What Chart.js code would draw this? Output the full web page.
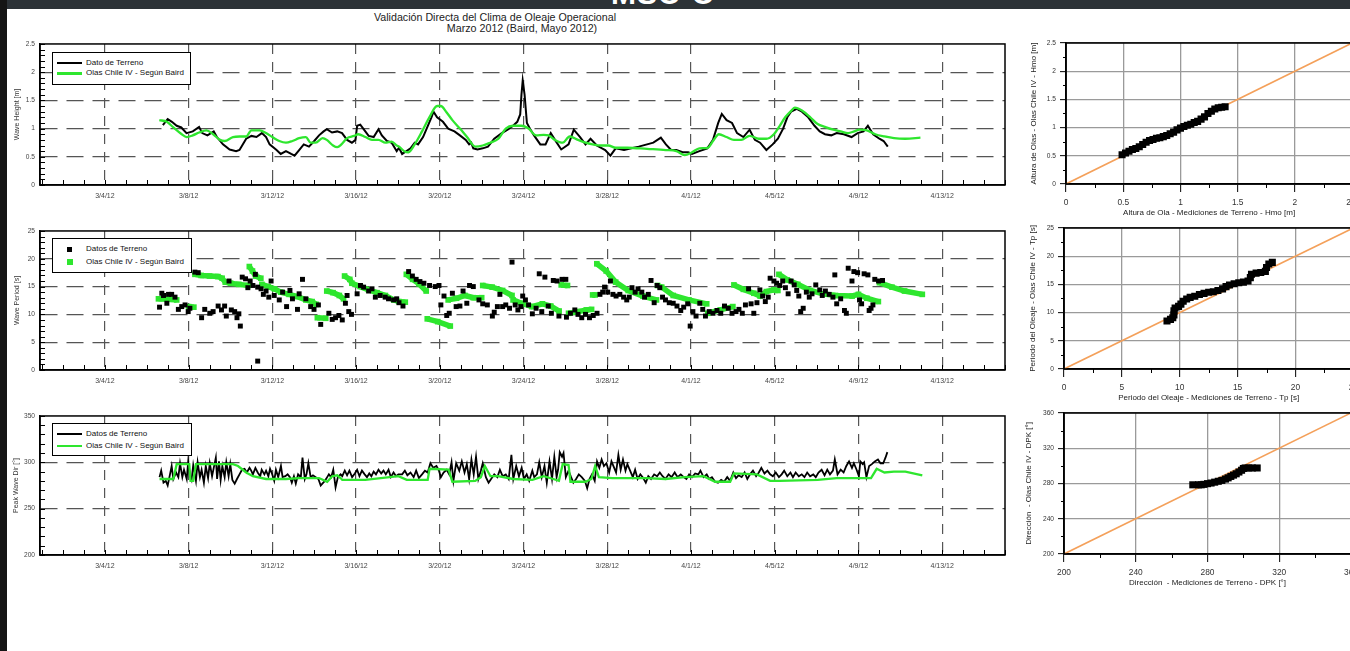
<!DOCTYPE html>
<html><head><meta charset="utf-8">
<script src="https://cdn.jsdelivr.net/npm/chart.js@4"></script>
<style>
html,body{margin:0;padding:0;width:1350px;height:651px;overflow:hidden;background:#fff;font-family:'Liberation Sans',Arial,sans-serif;}
#banner{position:absolute;left:0;top:0;width:1350px;height:9px;background:#2c3237;overflow:hidden;z-index:3;}
#banner span{position:absolute;left:611px;top:-23px;font:bold 30px 'Liberation Sans',Arial,sans-serif;color:#fff;letter-spacing:1px;}
#lstrip{position:absolute;left:0;top:0;width:7px;height:651px;background:#151515;z-index:3;}
.title{position:absolute;font-size:10.7px;line-height:12px;color:#222;white-space:nowrap;transform:translateX(-50%);}
canvas{position:absolute;}
.legend{position:absolute;border:1px solid #000;background:#fff;z-index:2;}
.legend span{position:absolute;left:33px;line-height:10px;font-size:8px;color:#111;white-space:nowrap;}
.legend .ln{position:absolute;left:4px;width:25px;}
.legend .sq{position:absolute;}
</style>
</head>
<body>
<div id="banner"><span>MSC-C</span></div>
<div id="lstrip"></div>
<div class="title" style="left:495px;top:11px">Validación Directa del Clima de Oleaje Operacional</div>
<div class="title" style="left:522px;top:22px">Marzo 2012 (Baird, Mayo 2012)</div>

<canvas id="c1" width="1010" height="175" style="left:0;top:35px"></canvas>
<canvas id="c2" width="1010" height="173" style="left:0;top:222px"></canvas>
<canvas id="c3" width="1010" height="173" style="left:0;top:407px"></canvas>
<canvas id="s1" width="344" height="184" style="left:1020px;top:35px"></canvas>
<canvas id="s2" width="344" height="184" style="left:1020px;top:220px"></canvas>
<canvas id="s3" width="344" height="184" style="left:1020px;top:405px"></canvas>

<div class="legend" style="left:52px;top:52px;width:137px;height:31px">
  <div class="ln" style="top:9px;height:2.2px;background:#000"></div><span style="top:5px">Dato de Terreno</span>
  <div class="ln" style="top:19px;height:2.5px;background:#2ee62e"></div><span style="top:15px">Olas Chile IV - Según Baird</span>
</div>
<div class="legend" style="left:52px;top:238px;width:138px;height:33px">
  <div class="sq" style="left:14px;top:7.5px;width:5px;height:5px;background:#000"></div><span style="top:5px">Datos de Terreno</span>
  <div class="sq" style="left:14px;top:19.5px;width:6px;height:6px;background:#2ee62e"></div><span style="top:17.5px">Olas Chile IV - Según Baird</span>
</div>
<div class="legend" style="left:52px;top:423px;width:138px;height:31px">
  <div class="ln" style="top:9px;height:2.2px;background:#000"></div><span style="top:5px">Datos de Terreno</span>
  <div class="ln" style="top:20.5px;height:2.5px;background:#2ee62e"></div><span style="top:16.5px">Olas Chile IV - Según Baird</span>
</div>

<script>
// ---------- tick labels ----------
const dateTickDays = [3, 7, 11, 15, 19, 23, 27, 31, 35, 39, 43];   // days after 3/1/12
const dateTickLabels = ['3/4/12','3/8/12','3/12/12','3/16/12','3/20/12','3/24/12','3/28/12','4/1/12','4/5/12','4/9/12','4/13/12'];
const hsTicks = [0, 0.5, 1, 1.5, 2, 2.5];
const tpTicks = [0, 5, 10, 15, 20, 25];
const dirTicks = [200, 250, 300, 350];
const dirQQTicks = [200, 240, 280, 320, 360];

// ---------- Wave height (day, m) ----------
const hsObs = [[5.77,1.06],[6.0,1.17],[6.2,1.12],[6.43,1.05],[6.65,1.02],[6.9,0.92],[7.2,0.95],[7.5,1.03],[7.65,0.92],[7.9,0.88],
[8.2,0.95],[8.35,0.85],[8.64,0.72],[8.96,0.63],[9.27,0.60],[9.43,0.62],[9.75,0.82],[10.0,0.87],[10.24,0.85],[10.5,0.92],
[10.7,0.85],[10.87,0.72],[11.2,0.62],[11.4,0.55],[11.65,0.60],[11.9,0.55],[12.06,0.52],[12.28,0.62],[12.5,0.72],[12.75,0.68],
[13.0,0.78],[13.23,0.88],[13.45,0.95],[13.6,0.99],[13.85,0.93],[14.1,0.95],[14.33,0.92],[14.57,0.80],[14.8,0.75],[14.97,0.80],
[15.05,1.05],[15.2,1.07],[15.44,0.95],[15.6,0.87],[15.84,0.85],[16.07,0.99],[16.23,0.88],[16.47,0.78],[16.7,0.75],[16.94,0.60],
[17.05,0.66],[17.2,0.55],[17.6,0.65],[17.8,0.75],[17.96,0.72],[18.2,0.85],[18.6,1.2],[18.7,1.3],[18.87,1.2],[19.15,1.12],
[19.4,1.0],[19.7,0.95],[19.96,0.88],[20.24,0.8],[20.4,0.72],[20.5,0.75],[20.6,0.65],[20.8,0.63],[21.05,0.65],[21.3,0.68],
[21.6,0.82],[21.96,0.92],[22.24,0.98],[22.5,1.05],[22.7,1.12],[22.84,1.25],[22.9,1.6],[22.96,1.85],[23.05,1.6],[23.16,1.1],
[23.3,1.0],[23.5,0.88],[23.8,0.72],[24.05,0.72],[24.3,0.92],[24.5,0.8],[24.8,0.63],[25.15,0.72],[25.4,0.98],[25.7,0.85],
[25.96,0.72],[26.2,0.82],[26.5,0.7],[26.9,0.62],[27.15,0.52],[27.4,0.65],[27.8,0.62],[28.15,0.65],[28.5,0.68],[28.9,0.72],
[29.2,0.75],[29.56,0.84],[29.8,0.72],[30.05,0.62],[30.3,0.62],[30.6,0.58],[30.87,0.58],[31.05,0.55],[31.4,0.6],[31.78,0.65],
[32.05,0.8],[32.3,1.1],[32.47,1.26],[32.7,1.15],[32.96,1.1],[33.2,0.92],[33.5,0.85],[33.8,0.98],[34.05,0.8],[34.3,0.75],
[34.6,0.62],[34.9,0.72],[35.15,0.82],[35.4,1.0],[35.6,1.2],[35.78,1.3],[36.05,1.35],[36.3,1.3],[36.6,1.2],[36.9,1.05],
[37.15,0.95],[37.4,0.9],[37.7,0.88],[37.96,0.92],[38.3,0.9],[38.67,0.85],[38.96,0.92],[39.24,0.95],[39.45,1.05],[39.7,0.9],
[40.0,0.82],[40.2,0.78],[40.4,0.68]];
const hsMod = [[5.6,1.15],[5.96,1.12],[6.27,1.02],[6.67,0.9],[6.9,0.85],[7.2,0.88],[7.5,0.93],[7.85,0.97],[8.17,0.9],[8.5,0.8],
[8.72,0.78],[9.12,0.85],[9.43,0.86],[9.75,0.86],[10.0,0.97],[10.4,0.97],[10.7,0.92],[11.0,0.85],[11.33,0.78],[11.65,0.75],
[11.96,0.78],[12.28,0.83],[12.6,0.85],[12.83,0.75],[13.07,0.75],[13.4,0.83],[13.6,0.8],[13.9,0.7],[14.1,0.67],[14.3,0.72],
[14.57,0.83],[14.9,0.87],[15.1,0.9],[15.45,0.85],[15.76,0.8],[16.07,0.8],[16.4,0.75],[16.7,0.77],[16.94,0.7],[17.05,0.68],
[17.3,0.6],[17.5,0.58],[17.8,0.72],[18.15,0.95],[18.5,1.2],[18.87,1.4],[19.05,1.4],[19.3,1.3],[19.6,1.15],[19.96,1.0],
[20.3,0.85],[20.7,0.68],[21.05,0.7],[21.4,0.75],[21.8,0.82],[22.15,1.0],[22.5,1.05],[22.9,1.05],[23.24,1.0],[23.6,0.88],
[23.96,0.89],[24.2,0.88],[24.5,0.8],[24.87,0.75],[25.2,0.86],[25.6,0.8],[25.96,0.75],[26.3,0.72],[26.7,0.7],[27.05,0.7],
[27.4,0.66],[27.96,0.66],[28.9,0.64],[29.8,0.62],[30.3,0.6],[30.7,0.53],[31.05,0.58],[31.4,0.65],[31.8,0.66],[32.05,0.78],
[32.33,0.9],[32.7,0.85],[33.05,0.8],[33.4,0.8],[33.8,0.87],[34.24,0.82],[34.6,0.82],[34.96,0.9],[35.24,1.05],[35.5,1.2],
[35.8,1.32],[35.96,1.37],[36.3,1.32],[36.7,1.2],[37.05,1.08],[37.4,1.03],[37.8,0.98],[38.15,0.95],[38.5,0.92],[38.8,0.95],
[39.05,0.98],[39.4,0.97],[39.8,0.9],[40.24,0.86],[40.7,0.83],[41.24,0.82],[41.96,0.84]];

// ---------- Wave period (day, s) ----------
const tpObs = [[5.61,11.3],[5.72,13.8],[5.80,13.4],[5.96,12.0],[6.04,13.6],[6.19,13.6],[6.35,13.1],[6.51,10.9],[6.67,11.4],[6.83,11.7],
[6.98,10.5],[7.06,11.1],[7.30,17.6],[7.46,17.5],[7.62,9.4],[7.77,10.9],[8.01,10.2],[8.17,10.5],[8.41,11.5],[8.57,10.8],
[8.72,11.5],[8.80,9.7],[8.93,16.0],[9.04,10.8],[9.20,10.5],[9.31,9.4],[9.40,10.1],[9.47,7.9],[9.56,16.7],[9.72,16.4],
[9.83,14.8],[9.94,16.0],[10.07,15.2],[10.19,17.2],[10.30,1.6],[10.30,14.9],[10.46,14.6],[10.57,13.6],[10.70,14.2],[10.83,13.1],
[10.94,16.0],[11.09,13.4],[11.33,12.6],[11.49,14.0],[11.68,11.4],[11.84,14.3],[11.96,12.8],[12.20,10.9],[12.28,13.7],[12.44,16.3],
[12.60,12.8],[12.83,11.4],[12.99,10.9],[13.20,11.7],[13.31,8.2],[13.70,10.2],[13.86,9.1],[14.02,9.4],[14.18,9.8],[14.34,9.0],
[14.49,12.0],[14.57,13.4],[14.65,10.5],[14.78,10.0],[15.05,13.7],[15.21,15.2],[15.36,14.9],[15.60,14.2],[15.76,14.6],[15.92,13.1],
[16.15,13.4],[16.39,13.1],[16.55,12.8],[16.79,12.6],[16.94,12.8],[17.05,12.1],[17.24,11.5],[17.51,17.7],[17.69,16.9],[17.87,16.3],
[18.05,15.9],[18.24,15.6],[18.51,15.2],[18.78,15.0],[18.96,15.2],[19.05,11.7],[19.20,13.3],[19.33,9.8],[19.45,10.2],[19.60,13.8],
[19.78,11.4],[19.96,11.5],[20.11,14.2],[20.29,12.0],[20.42,15.2],[20.60,15.0],[20.87,12.6],[21.05,11.9],[21.27,11.7],[21.51,9.7],
[21.60,10.4],[21.75,11.4],[21.87,13.6],[22.00,11.4],[22.15,11.7],[22.33,11.1],[22.45,19.4],[22.60,11.7],[22.73,10.8],[22.87,11.4],
[22.96,13.3],[23.09,12.6],[23.24,11.7],[23.42,10.1],[23.60,11.1],[23.75,17.3],[23.87,10.5],[24.02,16.7],[24.18,11.5],[24.33,10.2],
[24.42,16.1],[24.60,16.0],[24.69,9.7],[24.84,16.3],[25.02,16.3],[25.05,9.5],[25.24,10.2],[25.45,10.8],[25.60,10.0],[25.78,9.4],
[25.96,10.0],[26.15,9.4],[26.33,9.8],[26.51,10.2],[26.65,13.6],[26.78,14.0],[26.87,14.9],[27.02,14.0],[27.15,16.0],[27.27,13.6],
[27.42,13.3],[27.60,13.6],[27.78,13.1],[27.93,12.6],[28.05,13.1],[28.18,14.8],[28.33,14.0],[28.47,14.6],[28.65,14.0],[28.78,13.1],
[28.96,13.6],[29.09,16.1],[29.24,12.1],[29.38,15.2],[29.51,14.8],[29.64,13.1],[29.78,12.6],[29.96,12.1],[30.15,12.0],[30.33,11.5],
[30.51,10.7],[30.65,11.3],[30.84,11.9],[30.96,7.9],[31.09,10.5],[31.24,9.7],[31.42,12.0],[31.56,10.9],[31.69,9.7],[31.87,10.5],
[32.05,10.2],[32.24,10.7],[32.42,10.2],[32.60,11.5],[32.78,11.1],[32.96,10.2],[33.15,10.5],[33.29,10.9],[33.45,10.2],[33.60,11.7],
[33.75,14.6],[33.87,11.9],[34.00,10.2],[34.15,12.1],[34.29,14.4],[34.42,13.3],[34.55,12.3],[34.69,13.1],[34.78,16.5],[34.96,16.0],
[35.09,15.6],[35.24,15.2],[35.38,16.0],[35.51,14.8],[35.64,13.7],[35.78,16.0],[35.93,15.3],[36.05,14.3],[36.15,13.3],[36.24,10.5],
[36.36,11.1],[36.51,14.0],[36.65,13.1],[36.78,13.7],[36.96,15.3],[37.15,14.4],[37.27,13.4],[37.42,14.2],[37.60,13.6],[37.78,13.1],
[37.87,17.1],[37.96,11.9],[38.15,12.8],[38.33,10.7],[38.42,10.2],[38.51,18.3],[38.69,16.0],[38.78,17.7],[38.96,17.5],[39.05,12.6],
[39.15,11.9],[39.27,17.3],[39.45,17.1],[39.51,10.7],[39.60,11.1],[39.69,11.7],[39.78,16.3],[39.96,16.0],[40.15,16.1]];
// model runs, null separates the runs
const tpMod = [[5.56,12.8],[5.8,12.8],[6.1,12.7],[6.43,12.6],[6.7,null],
[7.0,11.4],[7.25,11.3],[7.28,null],
[7.3,17.2],[7.6,17.0],[8.0,16.9],[8.4,16.8],[8.6,16.5],[8.75,15.8],[9.0,15.6],[9.4,15.4],[9.85,15.2],[9.87,null],
[9.9,18.6],[10.05,17.8],[10.2,16.9],[10.45,16.5],[10.47,null],
[10.5,15.4],[10.8,15.0],[11.1,14.6],[11.4,14.0],[11.8,13.6],[12.2,13.2],[12.6,12.6],[12.9,12.3],[13.1,11.8],[13.12,null],
[13.15,9.4],[13.55,9.3],[13.57,null],
[13.6,14.2],[13.9,13.9],[14.2,13.4],[14.4,12.8],[14.42,null],
[14.45,16.9],[14.7,16.3],[14.8,15.6],[15.2,15.0],[15.6,14.4],[16.0,13.9],[16.4,13.4],[16.8,12.6],[17.05,12.3],[17.35,12.2],[17.37,null],
[17.4,17.2],[17.7,16.3],[18.0,15.5],[18.35,14.2],[18.37,null],
[18.4,9.2],[18.9,8.7],[19.5,7.9],[19.45,null],
[19.4,12.6],[19.8,12.9],[20.2,13.4],[20.6,13.0],[21.0,13.0],[21.02,null],
[21.05,15.2],[21.5,14.9],[22.0,14.3],[22.45,13.4],[22.47,null],
[22.5,12.6],[22.9,12.0],[23.4,11.4],[23.9,11.9],[24.3,11.5],[24.7,10.6],[24.75,null],
[24.8,15.3],[25.1,15.2],[25.12,null],
[25.15,10.2],[25.6,10.5],[26.0,10.8],[26.25,10.9],[26.27,null],
[26.3,13.5],[26.42,13.5],[26.45,null],
[26.5,19.1],[26.95,17.8],[27.4,15.8],[28.0,14.3],[28.7,13.3],[29.35,12.6],[29.37,null],
[29.4,15.2],[29.6,14.9],[30.15,13.4],[30.9,12.6],[31.75,11.9],[31.77,null],
[31.8,10.2],[32.4,10.8],[33.0,11.4],[33.02,null],
[33.05,15.3],[33.5,14.5],[34.0,13.8],[34.3,13.3],[34.6,14.1],[34.96,14.4],[35.15,14.3],[35.17,null],
[35.2,17.2],[35.6,16.2],[36.1,15.4],[36.7,14.3],[37.3,13.7],[37.9,13.4],[38.7,13.3],[39.0,13.6],[39.4,12.9],[39.95,12.3],[39.97,null],
[40.0,15.7],[40.6,14.9],[41.2,14.2],[42.05,13.6]];

// ---------- Peak wave direction (day, deg) ----------
const dirObs = [[5.61,284],[5.69,291],[5.80,278],[5.91,280],[6.00,275],[6.11,287],[6.19,296],[6.27,282],[6.40,289],[6.51,284],
[6.59,299],[6.70,284],[6.78,292],[6.91,282],[6.98,301],[7.06,286],[7.14,281],[7.22,297],[7.35,280],[7.43,300],
[7.54,284],[7.62,292],[7.73,278],[7.82,296],[7.93,283],[8.01,299],[8.12,285],[8.20,294],[8.30,305],[8.36,282],
[8.45,301],[8.53,281],[8.61,296],[8.72,284],[8.80,300],[8.91,285],[8.99,298],[9.09,281],[9.20,277],[9.31,282],
[9.43,287],[9.55,292],[9.67,293],[9.78,289],[9.91,294],[9.99,291],[10.07,287],[10.19,294],[10.30,289],[10.42,285],
[10.49,292],[10.62,287],[10.70,291],[10.81,285],[10.89,293],[10.98,288],[11.09,280],[11.17,292],[11.28,284],[11.41,296],
[11.49,284],[11.62,285],[11.73,287],[11.84,284],[11.93,278],[12.03,285],[12.12,277],[12.23,287],[12.36,284],[12.44,305],
[12.55,282],[12.63,287],[12.72,299],[12.83,284],[12.94,286],[13.07,284],[13.20,282],[13.31,275],[13.39,277],[13.51,280],
[13.62,284],[13.70,287],[13.81,284],[13.91,292],[14.02,273],[14.13,284],[14.26,287],[14.34,285],[14.46,291],[14.57,286],
[14.68,291],[14.81,284],[14.94,288],[15.05,292],[15.16,285],[15.28,291],[15.41,287],[15.52,284],[15.63,288],[15.73,285],
[15.84,290],[15.95,287],[16.07,292],[16.20,288],[16.31,291],[16.42,287],[16.55,292],[16.66,284],[16.79,289],[16.91,285],
[17.02,287],[17.20,287],[17.33,291],[17.45,286],[17.60,289],[17.75,284],[17.87,291],[18.00,283],[18.15,287],[18.29,291],
[18.42,289],[18.55,299],[18.69,294],[18.84,296],[18.96,291],[19.05,284],[19.18,289],[19.33,292],[19.45,287],[19.56,300],
[19.65,280],[19.78,299],[19.93,291],[20.05,301],[20.18,289],[20.29,298],[20.40,282],[20.51,303],[20.62,287],[20.73,306],
[20.84,282],[20.96,291],[21.05,299],[21.20,284],[21.33,278],[21.45,282],[21.60,287],[21.75,284],[21.87,292],[22.00,285],
[22.15,287],[22.29,282],[22.42,308],[22.51,282],[22.65,296],[22.78,285],[22.91,294],[23.02,282],[23.15,287],[23.27,280],
[23.42,291],[23.51,284],[23.64,287],[23.75,300],[23.87,284],[24.00,296],[24.11,278],[24.24,301],[24.36,282],[24.47,306],
[24.58,284],[24.65,292],[24.73,311],[24.84,306],[24.91,310],[25.02,284],[25.15,291],[25.27,284],[25.38,278],[25.51,282],
[25.64,287],[25.78,284],[25.93,280],[26.04,272],[26.15,282],[26.27,287],[26.40,280],[26.51,301],[26.62,294],[26.73,303],
[26.84,296],[26.96,299],[27.09,289],[27.20,301],[27.33,294],[27.42,289],[27.53,308],[27.64,292],[27.75,303],[27.87,291],
[27.96,298],[28.09,291],[28.22,284],[28.33,292],[28.45,282],[28.58,287],[28.69,284],[28.84,278],[28.96,285],[29.09,282],
[29.24,287],[29.38,285],[29.51,289],[29.64,285],[29.78,282],[29.93,287],[30.07,284],[30.22,289],[30.36,284],[30.51,287],
[30.65,284],[30.78,282],[30.91,287],[31.05,284],[31.20,288],[31.35,287],[31.45,291],[31.60,284],[31.75,287],[31.87,282],
[32.00,284],[32.15,279],[32.29,278],[32.44,281],[32.58,279],[32.73,284],[32.87,280],[33.02,289],[33.15,283],[33.27,286],
[33.42,284],[33.56,289],[33.69,282],[33.82,287],[33.96,291],[34.11,285],[34.24,289],[34.36,294],[34.51,288],[34.65,291],
[34.78,287],[34.91,285],[35.05,289],[35.20,284],[35.33,287],[35.45,291],[35.60,285],[35.75,289],[35.87,284],[36.00,289],
[36.15,285],[36.29,287],[36.42,284],[36.55,289],[36.69,285],[36.84,287],[36.96,284],[37.09,289],[37.24,292],[37.38,286],
[37.51,292],[37.64,287],[37.78,291],[37.87,303],[38.00,287],[38.15,292],[38.29,289],[38.42,296],[38.55,301],[38.69,294],
[38.78,299],[38.91,292],[39.02,285],[39.09,301],[39.20,298],[39.27,300],[39.38,284],[39.51,296],[39.64,298],[39.78,301],
[39.93,303],[40.05,299],[40.18,299],[40.29,305],[40.38,311]];
const dirMod = [[5.61,282],[6.27,282],[6.43,298],[7.03,298],[7.09,280],[7.22,280],[7.35,298],[8.17,298],[9.12,298],[9.36,296],
[9.75,289],[10.07,285],[10.70,282],[11.65,282],[12.28,283],[13.23,283],[13.62,279],[13.86,285],[14.10,286],[14.26,283],
[14.34,281],[15.44,281],[17.02,285],[17.42,281],[18.42,281],[18.51,293],[19.42,292],[19.60,279],[20.69,280],[20.96,284],
[21.15,296],[21.42,285],[21.78,285],[22.51,282],[23.42,281],[23.96,285],[24.42,282],[24.69,280],[24.87,298],[25.15,297],
[25.24,279],[25.96,279],[26.24,282],[26.42,296],[26.60,284],[27.24,283],[27.96,283],[28.87,283],[29.78,282],[30.69,284],
[31.60,285],[32.15,279],[32.87,279],[33.05,288],[34.15,287],[34.78,280],[35.24,280],[37.05,281],[37.96,283],[39.60,283],
[39.87,293],[40.24,289],[40.69,290],[41.24,290],[42.05,286]];

// ---------- Q-Q comparisons (measured, model) ----------
const hsQQ = [[0.49,0.52],[0.52,0.55],[0.55,0.58],[0.58,0.61],[0.61,0.63],[0.64,0.66],[0.67,0.70],[0.70,0.74],[0.73,0.77],[0.76,0.79],
[0.79,0.81],[0.82,0.82],[0.85,0.84],[0.88,0.86],[0.91,0.89],[0.94,0.92],[0.97,0.96],[1.00,0.99],[1.03,1.02],[1.06,1.04],
[1.09,1.06],[1.12,1.09],[1.15,1.11],[1.18,1.15],[1.21,1.19],[1.24,1.25],[1.27,1.29],[1.30,1.33],[1.33,1.35],[1.36,1.36],[1.39,1.37]];
const tpQQ = [[8.9,8.5],[9.2,8.8],[9.4,9.1],[9.5,9.6],[9.5,10.3],[9.6,10.8],[9.9,11.1],[10.1,11.5],[10.3,12.0],[10.6,12.4],
[10.9,12.7],[11.3,12.9],[11.7,13.2],[12.1,13.4],[12.5,13.6],[12.9,13.7],[13.3,13.9],[13.7,14.2],[14.0,14.6],[14.3,14.9],
[14.7,15.1],[15.1,15.3],[15.5,15.4],[15.9,15.6],[16.1,16.2],[16.2,16.8],[16.6,17.0],[17.0,17.1],[17.4,17.3],[17.5,18.0],[17.7,18.6],[18.0,18.9]];
const dirQQ = [[271.8,278.5],[275,278.5],[276.5,278.5],[278,279],[280,279.8],[282,280.5],[284,281.5],[286,282.5],[288,283.5],[290,285],
[291.5,286.4],[293,288],[294.5,289.5],[296,291],[297.5,293],[299,295],[300,297],[301,297.6],[303,297.6],[305,297.6],[307.7,297.6]];

// ---------- styling ----------
const FONT = "'Liberation Sans', Arial, sans-serif";
const GREEN = '#2ee62e';
const xy = arr => arr.map(p => ({x: p[0], y: p[1]}));

function decor(cfg) {
  return {
    id: 'decor',
    afterDraw(chart) {
      const ctx = chart.ctx, a = chart.chartArea;
      ctx.save();
      for (const t of cfg.ticks) {
        const sc = chart.scales[t.axis];
        ctx.strokeStyle = '#000';
        ctx.lineWidth = 1;
        ctx.beginPath();
        for (const v of t.values) {
          const p = Math.round(sc.getPixelForValue(v)) + 0.5;
          if (sc.isHorizontal()) { ctx.moveTo(p, a.bottom); ctx.lineTo(p, a.bottom + t.len); }
          else { ctx.moveTo(a.left, p); ctx.lineTo(a.left + t.len, p); }
        }
        ctx.stroke();
      }
      ctx.strokeStyle = '#000';
      ctx.lineWidth = cfg.box;
      ctx.strokeRect(a.left, a.top, a.right - a.left, a.bottom - a.top);
      ctx.restore();
    }
  };
}

function tsChart(id, datasets, yMin, yMax, yTicks, yMinorStep, yTitle, titlePad) {
  const yMinor = [];
  for (let v = yMin; v <= yMax + 1e-9; v += yMinorStep) yMinor.push(+v.toFixed(4));
  const xMinor = [];
  for (let d = 0; d <= 46; d++) xMinor.push(d);
  return new Chart(document.getElementById(id), {
    type: 'line',
    data: { datasets },
    options: {
      responsive: false, animation: false, events: [],
      layout: { padding: { top: 5, right: 5, left: 0, bottom: 0 } },
      plugins: { legend: { display: false }, tooltip: { enabled: false } },
      scales: {
        x: {
          type: 'linear', min: -0.1, max: 46,
          afterBuildTicks: s => { s.ticks = dateTickDays.map(v => ({ value: v })); },
          afterFit: s => { s.height = 25; },
          ticks: { autoSkip: false, maxRotation: 0, padding: 7, color: '#444', font: { family: FONT, size: 7 },
            callback: v => { const i = dateTickDays.indexOf(v); return i >= 0 ? dateTickLabels[i] : ''; } },
          grid: { color: '#555', lineWidth: 1.2, drawTicks: false },
          border: { display: true, color: '#000', width: 1.5, dash: [10, 8] }
        },
        y: {
          type: 'linear', min: yMin, max: yMax,
          afterBuildTicks: s => { s.ticks = yTicks.map(v => ({ value: v })); },
          afterFit: s => { s.width = 40; },
          ticks: { padding: 5, color: '#444', font: { family: FONT, size: 6.6 }, callback: v => String(v) },
          grid: { color: c => (c.tick && (c.tick.value === yMin || c.tick.value === yMax)) ? 'rgba(0,0,0,0)' : '#555',
                  lineWidth: 1.2, drawTicks: false },
          border: { display: true, color: '#000', width: 1.5, dash: [17, 9] },
          title: { display: true, text: yTitle, color: '#333', font: { family: FONT, size: 7 }, padding: { top: titlePad, bottom: 0 } }
        }
      }
    },
    plugins: [decor({ ticks: [{ axis: 'x', values: xMinor, len: -5 }, { axis: 'y', values: yMinor, len: 5 }], box: 1.5 })]
  });
}

function qqChart(id, pts, lo, hi, ticks, minor, xTitle, yTitle, yw, padR, yTitlePad) {
  return new Chart(document.getElementById(id), {
    type: 'scatter',
    data: { datasets: [
      { data: xy(pts), pointStyle: 'rect', pointRadius: 5, backgroundColor: '#000', borderColor: '#000', borderWidth: 0 },
      { type: 'line', data: [{ x: lo, y: lo }, { x: hi, y: hi }], borderColor: '#f4a05a', borderWidth: 1.6, pointRadius: 0 }
    ] },
    options: {
      responsive: false, animation: false, events: [],
      layout: { padding: { top: 5, right: padR, left: 0, bottom: 0 } },
      plugins: { legend: { display: false }, tooltip: { enabled: false } },
      scales: {
        x: {
          type: 'linear', min: lo, max: hi,
          afterBuildTicks: s => { s.ticks = ticks.map(v => ({ value: v })); },
          afterFit: s => { s.height = 35; },
          ticks: { autoSkip: false, maxRotation: 0, padding: 6, color: '#333', font: { family: FONT, size: 8.4 }, callback: v => String(v) },
          grid: { color: '#9a9a9a', lineWidth: 1.3, tickColor: '#000', tickLength: 8, tickWidth: 1 },
          border: { display: true, color: '#000', width: 1.6 },
          title: { display: true, text: xTitle, color: '#222', font: { family: FONT, size: 8 }, padding: { top: 0, bottom: 1.5 } }
        },
        y: {
          type: 'linear', min: lo, max: hi,
          afterBuildTicks: s => { s.ticks = ticks.map(v => ({ value: v })); },
          afterFit: s => { s.width = yw; },
          ticks: { padding: 4, color: '#333', font: { family: FONT, size: 6.6 }, callback: v => String(v) },
          grid: { color: '#9a9a9a', lineWidth: 1.3, tickColor: '#000', tickLength: 6, tickWidth: 1 },
          border: { display: true, color: '#000', width: 1.6 },
          title: { display: true, text: yTitle, color: '#222', font: { family: FONT, size: 8 }, padding: { top: yTitlePad, bottom: 0 } }
        }
      }
    },
    plugins: [decor({ ticks: [{ axis: 'x', values: minor, len: 4 }, { axis: 'y', values: minor, len: -3 }], box: 1.6 })]
  });
}

// ---------- time series ----------
tsChart('c1', [
  { data: xy(hsMod), borderColor: GREEN, borderWidth: 2.3, pointRadius: 0, tension: 0.4, cubicInterpolationMode: 'monotone' },
  { data: xy(hsObs), borderColor: '#000', borderWidth: 2, pointRadius: 0, tension: 0 }
], 0, 2.5, hsTicks, 0.1, 'Wave Height [m]', 12.8);

tsChart('c2', [
  { data: xy(tpObs), showLine: false, pointStyle: 'rect', pointRadius: 3.5, backgroundColor: '#000', borderWidth: 0 },
  { data: xy(tpMod), borderColor: GREEN, borderWidth: 5.5, spanGaps: false, pointStyle: 'rect', pointRadius: 4,
    pointBackgroundColor: GREEN, pointBorderWidth: 0, backgroundColor: GREEN }
], 0, 25, tpTicks, 1, 'Wave Period [s]', 12.8);

tsChart('c3', [
  { data: xy(dirMod), borderColor: GREEN, borderWidth: 2.3, pointRadius: 0, tension: 0 },
  { data: xy(dirObs), borderColor: '#000', borderWidth: 1.8, pointRadius: 0, tension: 0 }
], 200, 350, dirTicks, 10, 'Peak Wave Dir [°]', 11.5);

// ---------- Q-Q plots ----------
qqChart('s1', hsQQ, 0, 2.5, hsTicks, [0.25, 0.75, 1.25, 1.75, 2.25],
  'Altura de Ola - Mediciones de Terreno - Hmo [m]', 'Altura de Olas - Olas Chile IV - Hmo [m]', 46, 8, 8.7);
qqChart('s2', tpQQ, 0, 25, tpTicks, [2.5, 7.5, 12.5, 17.5, 22.5],
  'Periodo del Oleaje - Mediciones de Terreno - Tp [s]', 'Periodo del Oleaje - Olas Chile IV - Tp [s]', 44, 10, 8.2);
qqChart('s3', dirQQ, 200, 360, dirQQTicks, [220, 260, 300, 340],
  'Dirección  - Mediciones de Terreno - DPK [°]', 'Dirección  - Olas Chile IV - DPK [°]', 44, 10, 3.7);
</script>
</body></html>
